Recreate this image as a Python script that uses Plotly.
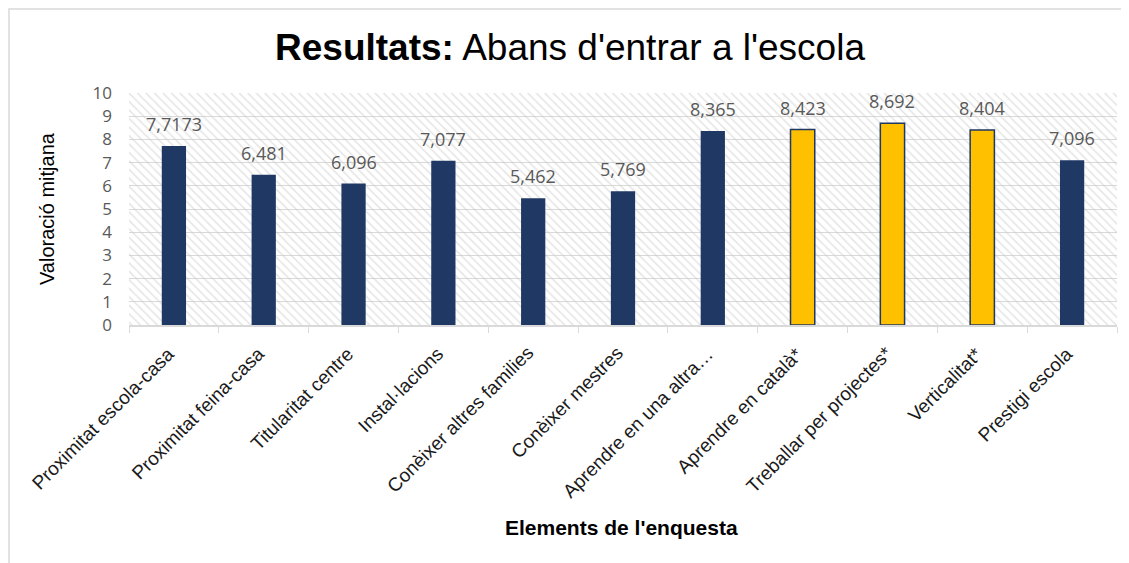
import plotly.graph_objects as go

# Chart data
categories = [
    "Proximitat escola-casa", "Proximitat feina-casa", "Titularitat centre",
    "Instal·lacions", "Conèixer altres families", "Conèixer mestres",
    "Aprendre en una altra…", "Aprendre en català*", "Treballar per projectes*",
    "Verticalitat*", "Prestigi escola",
]
values = [7.7173, 6.481, 6.096, 7.077, 5.462, 5.769, 8.365, 8.423, 8.692, 8.404, 7.096]
labels = ["7,7173", "6,481", "6,096", "7,077", "5,462", "5,769",
          "8,365", "8,423", "8,692", "8,404", "7,096"]
highlighted = [False, False, False, False, False, False, False, True, True, True, False]
y_ticks = list(range(0, 11))

NAVY = '#1f3864'
GOLD = '#ffc000'
FONT = 'Liberation Sans, Arial, sans-serif'
FONT_LABEL = 'Open Sans, Calibri, sans-serif'

# the page body adds an 8px offset, so the figure is drawn 8px smaller
W, H = 1121, 555
ML, MR, MT, MB = 121, 12, 85, 238
PW, PH = W - ML - MR, H - MT - MB

fig = go.Figure()

# hatched plot background
fig.add_trace(go.Bar(
    x=categories,
    y=[max(y_ticks)] * len(categories),
    width=1,
    marker=dict(
        color='rgba(0,0,0,0)',
        line=dict(width=0),
        pattern=dict(shape='\\', fgcolor='#c9c9c9', size=6, solidity=0.25),
    ),
    hoverinfo='skip',
    showlegend=False,
))

fig.add_trace(go.Bar(
    x=categories,
    y=values,
    width=0.27,
    marker=dict(
        color=[GOLD if h else NAVY for h in highlighted],
        line=dict(color=NAVY, width=[1.5 if h else 0 for h in highlighted]),
    ),
    showlegend=False,
))

for cat, v, lab in zip(categories, values, labels):
    fig.add_annotation(
        x=cat, y=v, text=lab, showarrow=False,
        yanchor='bottom', yshift=8,
        font=dict(family=FONT_LABEL, size=18, color='#595959'),
    )

# rotated category labels, anchored like the original (end near the tick)
for cat in categories:
    fig.add_annotation(
        x=cat, y=0, text=cat, showarrow=False, textangle=-45,
        xanchor='right', yanchor='top', xshift=7, yshift=-15,
        font=dict(family=FONT, size=19, color='#1a1a1a'),
    )

# title
fig.add_annotation(
    xref='paper', yref='paper', x=(562 - ML) / PW, y=1.0,
    yanchor='middle', yshift=46,
    text="<b>Resultats:</b> Abans d'entrar a l'escola",
    showarrow=False,
    font=dict(family=FONT, size=37, color='#000000'),
)

# axis titles
fig.add_annotation(
    xref='paper', yref='paper', x=(39 - ML) / PW, y=0.5,
    xanchor='center', yanchor='middle', textangle=-90,
    text='Valoració mitjana', showarrow=False,
    font=dict(family=FONT, size=20, color='#000000'),
)
fig.add_annotation(
    xref='paper', yref='paper', x=(613 - ML) / PW, y=0.0,
    xanchor='center', yanchor='middle', yshift=-202,
    text="<b>Elements de l'enquesta</b>", showarrow=False,
    font=dict(family=FONT, size=21, color='#000000'),
)

# outer frame (left and top edges only visible)
fig.add_shape(
    type='rect', xref='paper', yref='paper',
    x0=-(ML - 1) / PW, x1=1.05, y0=-1.2, y1=1 + (MT - 1) / PH,
    line=dict(color='#d9d9d9', width=1.5),
)

fig.update_layout(
    width=W,
    height=H,
    barmode='overlay',
    plot_bgcolor='white',
    paper_bgcolor='white',
    margin=dict(l=ML, r=MR, t=MT, b=MB, autoexpand=False),
    font=dict(family=FONT, color='#000000'),
    xaxis=dict(
        showticklabels=False,
        showgrid=False,
        showline=True,
        linecolor='#d9d9d9',
        linewidth=1.5,
        ticks='outside',
        tickson='boundaries',
        ticklen=6,
        tickcolor='#d9d9d9',
        range=[-0.5, len(categories) - 0.5],
        automargin=False,
    ),
    yaxis=dict(
        range=[0, 10],
        tickvals=y_ticks,
        tickfont=dict(family=FONT_LABEL, size=17, color='#595959'),
        showgrid=True,
        gridcolor='#d9d9d9',
        gridwidth=1.2,
        zeroline=False,
        ticks='',
        ticklabelstandoff=16,
        automargin=False,
    ),
)

fig.write_html("out.html")
